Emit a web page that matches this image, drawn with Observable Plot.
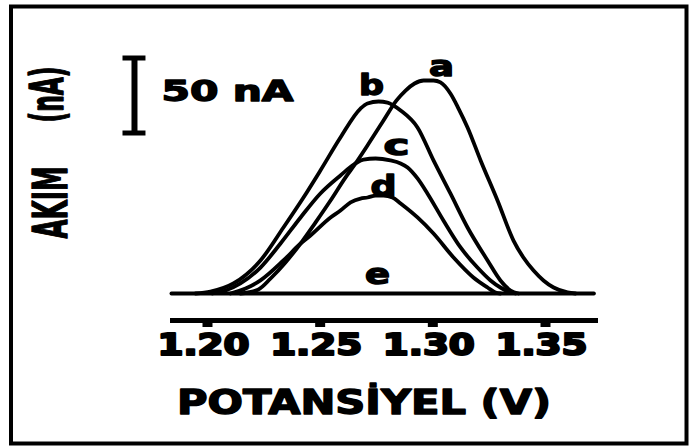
<!DOCTYPE html>
<html>
<head>
<meta charset="utf-8">
<script src="https://cdn.jsdelivr.net/npm/d3@7"></script>
<script src="https://cdn.jsdelivr.net/npm/@observablehq/plot@0.6"></script>
<style>
  html, body { margin: 0; padding: 0; background: #fff; }
</style>
</head>
<body>
<div id="chart"></div>
<script>
// Differential pulse voltammograms: current (nA) against potential (V)
const potentialA = [1.2146, 1.2226, 1.2280, 1.2346, 1.2413, 1.2479, 1.2546, 1.2612, 1.2657, 1.2710, 1.2781, 1.2839, 1.2879, 1.2919, 1.2959, 1.3003, 1.3034, 1.3078, 1.3114, 1.3154, 1.3212, 1.3287, 1.3358, 1.3402, 1.3447, 1.3491, 1.3536, 1.3598, 1.3633];
const currentA   = [0, 2.7, 10, 20.7, 33.3, 47.3, 62, 77.3, 86.7, 98.7, 115.3, 128.7, 135.3, 140, 142, 142, 140.7, 133.3, 123.3, 110.7, 88.7, 62, 35.3, 24, 15.3, 8.7, 4, 0.7, 0];

const potentialB = [1.1947, 1.2013, 1.2115, 1.2235, 1.2337, 1.2426, 1.2501, 1.2590, 1.2679, 1.2710, 1.2759, 1.2799, 1.2857, 1.2932, 1.3003, 1.3078, 1.3154, 1.3243, 1.3300, 1.3345, 1.3380];
const currentB   = [0, 1.3, 6.7, 22, 44, 64, 82, 104, 123.3, 126.7, 128, 127.3, 122, 110.7, 88.7, 66.7, 44, 22, 8.7, 2, 0];

const potentialC = [1.2022, 1.2080, 1.2146, 1.2235, 1.2324, 1.2413, 1.2501, 1.2590, 1.2657, 1.2692, 1.2746, 1.2812, 1.2857, 1.2888, 1.2932, 1.2976, 1.3047, 1.3123, 1.3198, 1.3256, 1.3300, 1.3345, 1.3367];
const currentC   = [0, 2, 6.7, 17.3, 33.3, 50.7, 66.7, 78.7, 86.7, 89.3, 90, 88.7, 86.7, 84, 76.7, 66.7, 48.7, 30.7, 17.3, 8.7, 4, 0.7, 0];

const potentialD = [1.2102, 1.2169, 1.2235, 1.2337, 1.2413, 1.2457, 1.2546, 1.2590, 1.2635, 1.2679, 1.2710, 1.2746, 1.2781, 1.2821, 1.2857, 1.2932, 1.3003, 1.3092, 1.3180, 1.3243, 1.3278, 1.3300];
const currentD   = [0, 3.3, 8.7, 22, 33.3, 38.7, 50.7, 55.3, 60.7, 63.3, 64, 65.3, 65.3, 64, 60, 50.7, 40, 24, 10.7, 4, 0.7, 0];

const potentialE = [1.1840, 1.2500, 1.3000, 1.3715];
const currentE   = [0, 0, 0, 0];

const seriesNames = ["a", "b", "c", "d", "e"];
const tickValues = [1.20, 1.25, 1.30, 1.35];
const tickLabels = ["1.20", "1.25", "1.30", "1.35"];
const xTitle = "POTANSİYEL (V)";
const yTitle = "AKIM";
const yUnit = "(nA)";
const scaleBarLength = 50;   // nA
const scaleBarUnit = "nA";

const series = [
  {name: seriesNames[0], potential: potentialA, current: currentA},
  {name: seriesNames[1], potential: potentialB, current: currentB},
  {name: seriesNames[2], potential: potentialC, current: currentC},
  {name: seriesNames[3], potential: potentialD, current: currentD},
  {name: seriesNames[4], potential: potentialE, current: currentE}
];
const rows = series.flatMap(s => s.potential.map((p, i) => ({series: s.name, potential: p, current: s.current[i]})));

// label anchor: the peak of each voltammogram (middle of the trace when flat)
function anchorOf(s) {
  const rs = rows.filter(r => r.series === s.name);
  const top = d3.greatest(rs, r => r.current);
  if (top.current > 0) return top;
  return {potential: d3.mean(rs, r => r.potential), current: 0};
}
const labelOffset = {a: [18, -13], b: [-7, -15], c: [21, -12], d: [8, -9], e: [-2, -18]};

const font = "DejaVu Sans";
const xDomain = [1.18447, 1.37219];
const yDomain = [-18, 190];
const barX = 1.1676;
const barBase = 107;
const serifHalf = 0.0051;

const chart = Plot.plot({
  width: 690,
  height: 446,
  marginLeft: 172,
  marginRight: 95,
  marginTop: 8,
  marginBottom: 126,
  style: {fontFamily: font, background: "#fff", color: "#000", overflow: "visible"},
  x: {domain: xDomain, axis: null},
  y: {domain: yDomain, axis: null},
  marks: [
    // outer border of the figure
    Plot.frame({stroke: "#000", strokeWidth: 4, insetLeft: -161.5, insetRight: -91, insetTop: -2, insetBottom: -123}),
    // potential axis line, ticks and labels
    Plot.frame({anchor: "bottom", stroke: "#000", strokeWidth: 5}),
    Plot.axisX({ticks: tickValues, tickSize: 7, strokeWidth: 10, fill: "none", label: null}),
    Plot.text(tickValues, {x: d => d, frameAnchor: "bottom", text: (d, i) => tickLabels[i], dx: -4, dy: 13,
      lineAnchor: "top", textAnchor: "middle", fontSize: 30, fontWeight: "bold"}),
    Plot.text([xTitle], {frameAnchor: "bottom", text: d => d, dx: -20, dy: 93, lineAnchor: "bottom",
      fontSize: 33, fontWeight: "bold"}),
    // current axis title, rotated
    Plot.text([yTitle], {frameAnchor: "top-left", text: d => d, rotate: -90, dx: -106, dy: 194,
      lineAnchor: "bottom", textAnchor: "middle", fontSize: 48, fontWeight: "bold"}),
    Plot.text([yUnit], {frameAnchor: "top-left", text: d => d, rotate: -90, dx: -110, dy: 86,
      lineAnchor: "bottom", textAnchor: "middle", fontSize: 46, fontWeight: "bold"}),
    // scale bar
    Plot.ruleX([barX], {y1: barBase, y2: barBase + scaleBarLength, stroke: "#000", strokeWidth: 6}),
    Plot.ruleY([barBase, barBase + scaleBarLength], {x1: barX - serifHalf, x2: barX + serifHalf, stroke: "#000", strokeWidth: 5}),
    Plot.text([`${scaleBarLength} ${scaleBarUnit}`], {x: barX, y: barBase + scaleBarLength / 2, text: d => d,
      dx: 27, dy: -4, textAnchor: "start", lineAnchor: "middle", fontSize: 29, fontWeight: "bold"}),
    // voltammograms
    Plot.line(rows, {x: "potential", y: "current", z: "series", stroke: "#000", strokeWidth: 3.8,
      curve: "monotone-x", strokeLinejoin: "round", strokeLinecap: "round"}),
    ...series.map(s => Plot.text([anchorOf(s)], {x: "potential", y: "current", text: () => s.name,
      dx: labelOffset[s.name][0], dy: labelOffset[s.name][1], lineAnchor: "middle", textAnchor: "middle",
      fontSize: 28, fontWeight: "bold"}))
  ]
});

document.getElementById("chart").appendChild(chart);

// widen or narrow the heavy lettering to its drawn width, and thicken its strokes
const textWidths = new Map([
  ["1.20", 92], ["1.25", 92], ["1.30", 92], ["1.35", 92],
  [xTitle, 374], [yTitle, 72], [yUnit, 56], [`${scaleBarLength} ${scaleBarUnit}`, 132],
  ["a", 25], ["b", 25], ["c", 26], ["d", 26], ["e", 25]
]);
d3.select(chart).selectAll("text").each(function() {
  const label = this.textContent.trim();
  const w = textWidths.get(label);
  if (w) {
    this.setAttribute("textLength", w);
    this.setAttribute("lengthAdjust", "spacingAndGlyphs");
  }
  this.style.fill = "#000";
  this.style.stroke = "#000";
  this.style.strokeWidth = tickLabels.includes(label) ? "2.2px" : "1.4px";
  this.style.strokeLinejoin = "round";
});
</script>
</body>
</html>
